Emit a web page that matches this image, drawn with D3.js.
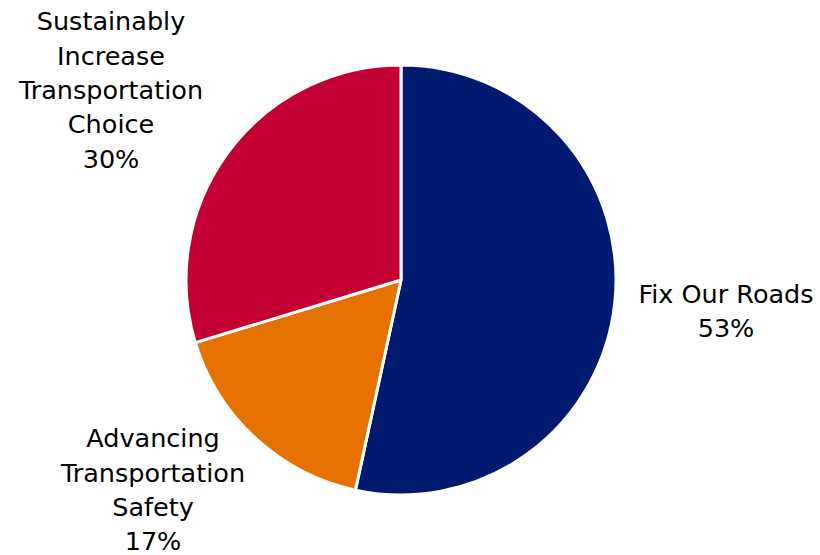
<!DOCTYPE html>
<html><head><meta charset="utf-8">
<script src="https://cdn.jsdelivr.net/npm/d3@7"></script>
<style>body{margin:0;background:#fff}svg{display:block}</style>
</head><body>
<svg id="c" width="820" height="555"></svg>
<script>
const categories = ["Fix Our Roads", "Advancing Transportation Safety", "Sustainably Increase Transportation Choice"];
const values = [53.4, 16.9, 29.7];
const labelLines = [["Fix Our Roads"], ["Advancing", "Transportation", "Safety"], ["Sustainably", "Increase", "Transportation", "Choice"]];
const colors = ["#001A70", "#E57200", "#C30032"];

const cx = 401, cy = 280, R = 215;
const labelPos = [[726, 311], [153, 490], [111, 90]]; // layout: label block centres
const svg = d3.select("#c");
const pie = d3.pie().sort(null).value(d => d)(values);
const arc = d3.arc().innerRadius(0).outerRadius(R);
const g = svg.append("g").attr("transform", `translate(${cx},${cy})`);
g.selectAll("path").data(pie).join("path")
  .attr("d", arc).attr("fill", (d, i) => colors[i])
  .attr("stroke", "#fff").attr("stroke-width", 3).attr("stroke-linejoin", "round");

const lh = 34.3;
categories.forEach((c, i) => {
  const lines = labelLines[i].concat([Math.round(values[i]) + "%"]);
  const n = lines.length;
  const t = svg.append("text")
    .attr("font-family", "'DejaVu Sans', sans-serif")
    .attr("font-size", 25.5).attr("fill", "#000").attr("text-anchor", "middle");
  lines.forEach((l, j) => {
    t.append("tspan").attr("x", labelPos[i][0])
      .attr("y", labelPos[i][1] + (j - (n - 1) / 2) * lh)
      .attr("dy", "0.35em").text(l);
  });
});
</script>
</body></html>
